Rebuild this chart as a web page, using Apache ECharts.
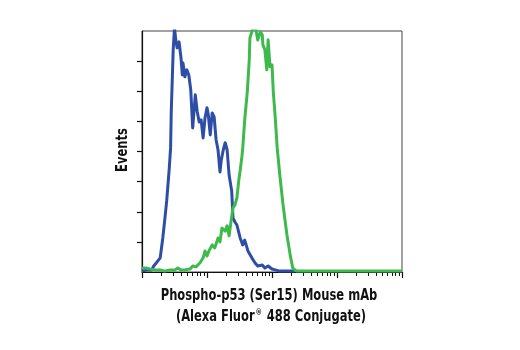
<!DOCTYPE html>
<html>
<head>
<meta charset="utf-8">
<script src="https://cdn.jsdelivr.net/npm/echarts@6/dist/echarts.min.js"></script>
<style>
  html, body { margin: 0; padding: 0; background: #fff; }
  #chart { width: 520px; height: 350px; }
</style>
</head>
<body>
<div id="chart"></div>
<script>
// Fluorescence position in decades (log10 intensity) and event counts (in y-tick units)
var controlX = [0.00, 0.09, 0.15, 0.18, 0.22, 0.25, 0.28, 0.32, 0.35, 0.38, 0.42, 0.44, 0.45, 0.48, 0.50,
  0.52, 0.54, 0.57, 0.60, 0.62, 0.63, 0.66, 0.69, 0.72, 0.75, 0.78, 0.82, 0.85, 0.88, 0.91, 0.94, 0.97,
  1.00, 1.02, 1.05, 1.08, 1.11, 1.14, 1.17, 1.20, 1.22, 1.25, 1.28, 1.31, 1.34, 1.38, 1.40, 1.43, 1.46,
  1.51, 1.55, 1.58, 1.63, 1.69, 1.74, 1.78, 1.85, 1.89, 1.94, 2.00, 2.05, 2.12, 2.35];
var controlY = [0.03, 0.07, 0.07, 0.20, 0.30, 0.27, 0.47, 1.13, 1.73, 2.36, 3.46, 4.12, 5.32, 7.38, 8.10,
  7.70, 7.44, 7.64, 7.11, 6.54, 6.94, 6.48, 6.71, 6.54, 6.05, 4.78, 5.88, 5.32, 4.98, 5.05, 4.45, 5.12,
  5.45, 5.22, 4.55, 5.28, 5.15, 4.39, 4.05, 3.32, 3.72, 4.05, 4.29, 4.05, 3.22, 2.69, 1.79, 1.66, 1.56,
  1.13, 0.90, 1.06, 0.70, 0.47, 0.30, 0.20, 0.23, 0.13, 0.20, 0.10, 0.07, 0.03, 0.03];

var treatedX = [0.00, 0.06, 0.12, 0.20, 0.28, 0.35, 0.43, 0.51, 0.55, 0.60, 0.66, 0.74, 0.78, 0.83, 0.89,
  0.94, 0.97, 1.00, 1.03, 1.08, 1.12, 1.17, 1.20, 1.23, 1.28, 1.31, 1.34, 1.37, 1.40, 1.43, 1.46, 1.49,
  1.51, 1.54, 1.55, 1.58, 1.62, 1.65, 1.66, 1.69, 1.72, 1.75, 1.78, 1.82, 1.85, 1.86, 1.89, 1.92, 1.94,
  1.97, 2.00, 2.02, 2.05, 2.08, 2.12, 2.17, 2.23, 2.28, 2.32, 2.38, 4.00];
var treatedY = [0.13, 0.13, 0.10, 0.07, 0.07, 0.03, 0.07, 0.07, 0.13, 0.07, 0.07, 0.10, 0.20, 0.17, 0.30,
  0.47, 0.70, 0.53, 0.70, 0.90, 0.80, 1.13, 1.00, 1.46, 1.36, 1.53, 1.20, 1.69, 2.13, 2.23, 2.46, 3.06,
  3.36, 3.89, 4.12, 5.05, 5.98, 7.04, 7.77, 7.97, 8.20, 8.10, 7.70, 7.97, 7.87, 7.54, 7.38, 6.71, 7.71,
  6.81, 6.88, 5.98, 5.12, 4.12, 3.22, 2.23, 1.23, 0.56, 0.13, 0.03, 0.03];

// Log axis: decades and the 2..9 sub-decade positions
var decades = [0, 1, 2, 3, 4];
var subDecades = [];
for (var d = 0; d < 4; d++) {
  for (var k = 2; k <= 9; k++) subDecades.push(d + Math.log10(k));
}
// Event-count ticks between the corners
var countTicks = [1, 2, 3, 4, 5, 6, 7];

var yTitle = 'Events';
var xTitleLine1 = 'Phospho-p53 (Ser15) Mouse mAb';
var xTitleLine2 = ['(Alexa Fluor', '®', ' 488 Conjugate)'];

function pairs(xs, ys) {
  return xs.map(function (x, i) { return [x, ys[i]]; });
}

var chart = echarts.init(document.getElementById('chart'), null, { renderer: 'canvas' });
var font = '"DejaVu Sans Condensed", "Liberation Sans Narrow", "Liberation Sans", sans-serif';
var narrow = 0.8;

chart.setOption({
  animation: false,
  backgroundColor: '#ffffff',
  graphic: [{
    type: 'text',
    x: 269, y: 304,
    scaleX: narrow,
    style: {
      text: xTitleLine1,
      fontFamily: font, fontWeight: 'bold', fontSize: 16, fill: '#111',
      align: 'center', verticalAlign: 'bottom'
    }
  }, {
    type: 'text',
    x: 271, y: 326,
    scaleX: narrow,
    style: {
      text: '{a|' + xTitleLine2[0] + '}{s|' + xTitleLine2[1] + '}{a|' + xTitleLine2[2] + '}',
      align: 'center', verticalAlign: 'bottom',
      rich: {
        a: { fontFamily: font, fontWeight: 'bold', fontSize: 16, fill: '#111', lineHeight: 19 },
        s: { fontFamily: font, fontWeight: 'bold', fontSize: 9, fill: '#111', lineHeight: 19, padding: [0, 1, 8, 1] }
      }
    }
  }, {
    type: 'text',
    x: 123, y: 150,
    rotation: Math.PI / 2,
    scaleX: narrow,
    style: {
      text: yTitle,
      fontFamily: font, fontWeight: 'bold', fontSize: 16, fill: '#111',
      align: 'center', verticalAlign: 'middle'
    }
  }],
  grid: {
    left: 142, top: 31, right: 118, bottom: 78,
    show: true,
    borderColor: '#444',
    borderWidth: 1
  },
  xAxis: [{
    type: 'value',
    min: 0, max: 4, interval: 1,
    axisLine: { show: true, lineStyle: { color: '#111', width: 1.2 } },
    axisTick: { show: true, inside: false, length: 6, customValues: decades, lineStyle: { color: '#111', width: 1.2 } },
    axisLabel: { show: false },
    splitLine: { show: false }
  }, {
    type: 'value',
    min: 0, max: 4, interval: 1,
    position: 'bottom',
    axisLine: { show: false },
    axisTick: { show: true, inside: false, length: 4, customValues: subDecades, lineStyle: { color: '#111', width: 1 } },
    axisLabel: { show: false },
    splitLine: { show: false }
  }],
  yAxis: {
    type: 'value',
    min: 0, max: 8, interval: 1,
    axisLine: { show: true, lineStyle: { color: '#111', width: 1.2 } },
    axisTick: { show: true, inside: false, length: 5, customValues: countTicks, lineStyle: { color: '#111', width: 1.2 } },
    axisLabel: { show: false },
    splitLine: { show: false }
  },
  series: [{
    type: 'line',
    data: pairs(controlX, controlY),
    showSymbol: false,
    clip: true,
    z: 2,
    lineStyle: { color: '#2e4ea6', width: 3, join: 'round' }
  }, {
    type: 'line',
    data: pairs(treatedX, treatedY),
    showSymbol: false,
    clip: true,
    z: 3,
    lineStyle: { color: '#3dba4b', width: 3, join: 'round' }
  }]
});
</script>
</body>
</html>
